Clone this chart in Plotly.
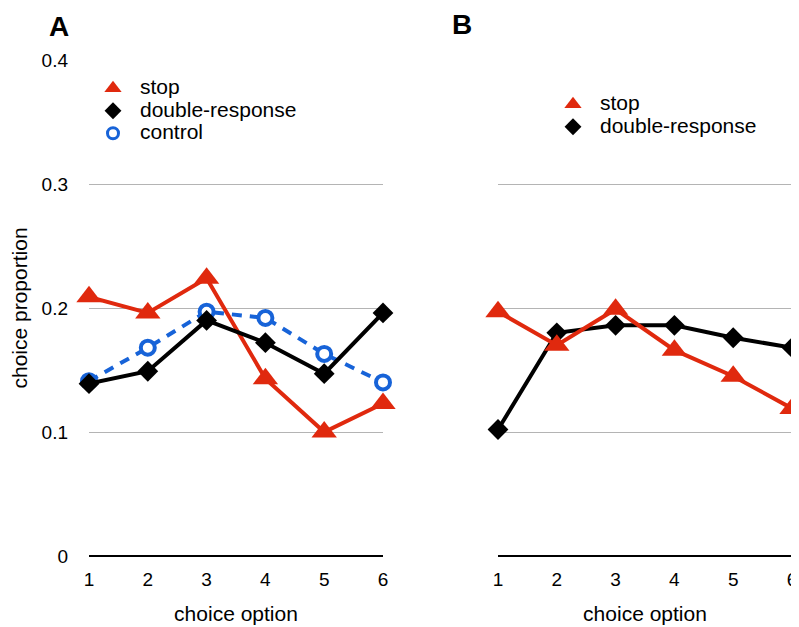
import plotly.graph_objects as go

# ---- data ----
options = [1, 2, 3, 4, 5, 6]
a_stop = [0.209, 0.196, 0.224, 0.143, 0.100, 0.123]
a_double = [0.139, 0.149, 0.190, 0.172, 0.147, 0.196]
a_control = [0.141, 0.168, 0.197, 0.192, 0.163, 0.140]
b_stop = [0.197, 0.170, 0.199, 0.166, 0.145, 0.119]
b_double = [0.102, 0.180, 0.186, 0.186, 0.176, 0.168]
y_ticks = [0, 0.1, 0.2, 0.3, 0.4]
y_tick_labels = ["0", "0.1", "0.2", "0.3", "0.4"]
series_names = ["stop", "double-response", "control"]

RED = "#E0290E"
BLACK = "#000000"
BLUE = "#1763D8"
FONT = "Liberation Sans"
OFF = 8  # page body margin
W, H = 799, 627

fig = go.Figure()

def add_series(x, y, xa, ya, color, symbol, size, dash="solid", fill=None, mlw=0):
    fig.add_trace(go.Scatter(
        x=x, y=y, xaxis=xa, yaxis=ya, mode="lines+markers",
        line=dict(color=color, width=4, dash=dash),
        marker=dict(symbol=symbol, size=size, color=fill or color,
                    line=dict(color=color, width=mlw)),
        cliponaxis=False, showlegend=False, hoverinfo="skip"))

# panel A
add_series(options, a_stop, "x", "y", RED, "triangle-up", 22)
add_series(options, a_control, "x", "y", BLUE, "circle", 14, dash="10px,8px", fill="white", mlw=4)
add_series(options, a_double, "x", "y", BLACK, "diamond", 16)
# panel B
add_series(options, b_double, "x2", "y2", BLACK, "diamond", 16)
add_series(options, b_stop, "x2", "y2", RED, "triangle-up", 22)

# legend-only entries
def legend_entry(name, color, symbol, legend, fill=None, mlw=0, size=13):
    fig.add_trace(go.Scatter(
        x=[None], y=[None], mode="markers", legend=legend,
        name='<span style="font-size:21px">' + name + '</span>',
        marker=dict(symbol=symbol, size=size, color=fill or color,
                    line=dict(color=color, width=mlw)),
        showlegend=True))

legend_entry(series_names[0], RED, "triangle-up", "legend", size=15)
legend_entry(series_names[1], BLACK, "diamond", "legend")
legend_entry(series_names[2], BLUE, "circle", "legend", fill="white", mlw=3, size=11)
legend_entry(series_names[0], RED, "triangle-up", "legend2", size=15)
legend_entry(series_names[1], BLACK, "diamond", "legend2")

def px_x(p):
    return (p - OFF) / W

def px_y(p):
    return 1 - (p - OFF) / H

ydom = [px_y(556), px_y(60)]
xaxis_common = dict(range=[1, 6], tickvals=options, ticktext=[str(o) for o in options],
                    showgrid=False, zeroline=False, showline=False, ticks="",
                    automargin=False,
                    tickfont=dict(family=FONT, size=19, color="black"),
                    ticklabelstandoff=10,
                    title=dict(text="choice option", font=dict(family=FONT, size=21, color="black"),
                               standoff=17))
yaxis_common = dict(range=[0, 0.4], tickvals=y_ticks, ticktext=y_tick_labels,
                    showgrid=True, gridcolor="#B4B4B4", gridwidth=1.2,
                    zeroline=True, zerolinecolor="black", zerolinewidth=1.5,
                    showline=False, ticks="", domain=ydom, automargin=False,
                    tickfont=dict(family=FONT, size=19, color="black"))

fig.update_layout(
    width=W, height=H, margin=dict(l=0, r=0, t=0, b=0, autoexpand=False),
    plot_bgcolor="white", paper_bgcolor="white",
    xaxis=dict(domain=[px_x(89), px_x(383)], anchor="y", **xaxis_common),
    xaxis2=dict(domain=[px_x(498), px_x(792)], anchor="y2", **xaxis_common),
    yaxis=dict(anchor="x", showticklabels=True, ticklabelstandoff=20,
               title=dict(text="choice proportion", font=dict(family=FONT, size=21, color="black"),
                          standoff=10),
               **yaxis_common),
    yaxis2=dict(anchor="x2", showticklabels=False, **yaxis_common),
    legend=dict(x=px_x(86), y=px_y(72), xanchor="left", yanchor="top",
                bgcolor="rgba(0,0,0,0)", itemwidth=44,
                font=dict(family=FONT, size=15, color="black"), tracegroupgap=0),
    legend2=dict(x=px_x(546), y=px_y(88), xanchor="left", yanchor="top",
                 bgcolor="rgba(0,0,0,0)", itemwidth=44,
                 font=dict(family=FONT, size=15, color="black"), tracegroupgap=0),
    annotations=[
        dict(text="<b>A</b>", x=px_x(47), y=px_y(26), xref="paper", yref="paper",
             xanchor="left", yanchor="middle", showarrow=False,
             font=dict(family=FONT, size=28, color="black")),
        dict(text="<b>B</b>", x=px_x(450), y=px_y(25), xref="paper", yref="paper",
             xanchor="left", yanchor="middle", showarrow=False,
             font=dict(family=FONT, size=28, color="black")),
    ],
)

fig.write_html("out.html")
